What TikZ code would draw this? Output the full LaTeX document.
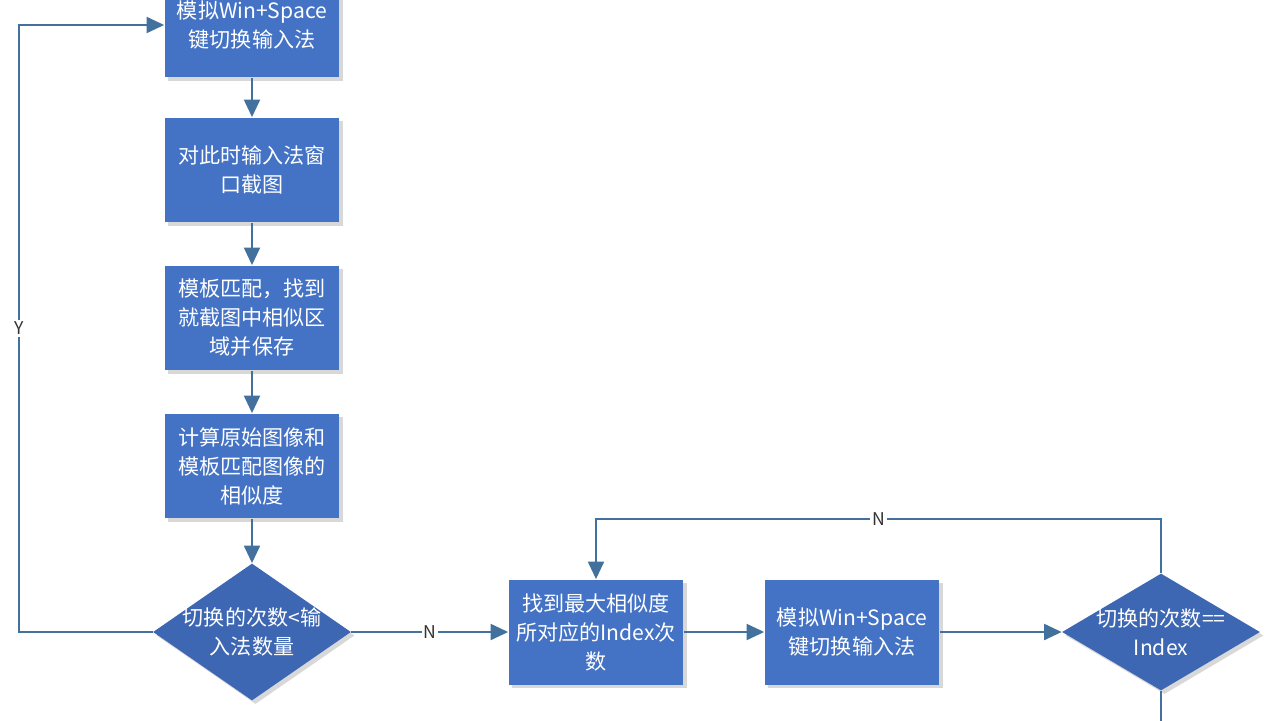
\documentclass[tikz,border=0pt]{standalone}
\usepackage{fontspec}
\setmainfont{Noto Sans CJK SC}
\usetikzlibrary{arrows.meta}
\usetikzlibrary{shapes.geometric}
\usetikzlibrary{shadows}
\definecolor{boxblue}{HTML}{4472C4}
\definecolor{decblue}{HTML}{3D67B3}
\definecolor{flowblue}{HTML}{41719C}
\tikzset{
    stepbox/.style={rectangle, fill=boxblue, text=white, align=center,
        minimum width=3.5cm, minimum height=2.1cm, inner sep=0pt,
        font=\fontsize{12}{16.5}\selectfont,
        drop shadow={shadow xshift=0.07cm, shadow yshift=-0.07cm, opacity=0.3}},
    decision/.style={diamond, fill=decblue, inner sep=0pt,
        minimum width=3.96cm, minimum height=#1,
        drop shadow={shadow xshift=0.07cm, shadow yshift=-0.07cm, opacity=0.3}},
    dectext/.style={text=white, align=center, font=\fontsize{12}{16.5}\selectfont},
    flow/.style={draw=flowblue, line width=1.5pt, -{Triangle[length=10pt, width=9pt]}},
    plain/.style={draw=flowblue, line width=1.5pt},
    lbl/.style={fill=white, inner sep=1pt, text=black!80, font=\fontsize{10}{12}\selectfont}
}

\begin{document}
\begin{tikzpicture}[x=0.02cm, y=-0.02cm]
\useasboundingbox[fill=white] (0,0) rectangle (1280,720);
\node[stepbox] (sim1) at (252,25) {模拟Win+Space\\键切换输入法};
\node[stepbox] (shot) at (252,170) {对此时输入法窗\\口截图};
\node[stepbox] (match) at (252,318) {模板匹配，找到\\就截图中相似区\\域并保存};
\node[stepbox] (simil) at (252,466) {计算原始图像和\\模板匹配图像的\\相似度};
\node[decision=2.74cm] (cmp1) at (252,632) {};
\node[dectext] (cmp1t) at (252,632) {切换的次数<输\\入法数量};
\node[stepbox] (best) at (596,632) {找到最大相似度\\所对应的Index次\\数};
\node[stepbox] (sim2) at (852,632) {模拟Win+Space\\键切换输入法};
\node[decision=2.34cm] (cmp2) at (1161,632) {};
\node[dectext] (cmp2t) at (1161,632) {切换的次数==\\Index};
\coordinate (yturn) at (19,632);
\coordinate (nturn) at (1161,519);
\coordinate (exit) at (1161,730);
% main column
\draw[flow] (sim1) -- (shot);
\draw[flow] (shot) -- (match);
\draw[flow] (match) -- (simil);
\draw[flow] (simil) -- (cmp1);
% bottom row
\draw[flow] (cmp1.east) -- node[lbl] {N} (best.west);
\draw[flow] (best) -- (sim2);
\draw[flow] (sim2.east) -- (cmp2.west);
% loops
\draw[flow] (cmp1.west) -- (yturn) |- node[pos=0.25, lbl] {Y} (sim1.west);
\draw[flow] (cmp2.north) -- (nturn) -| node[pos=0.25, lbl] {N} (best.north);
\draw[plain] (cmp2.south) -- (exit);
\end{tikzpicture}
\end{document}
